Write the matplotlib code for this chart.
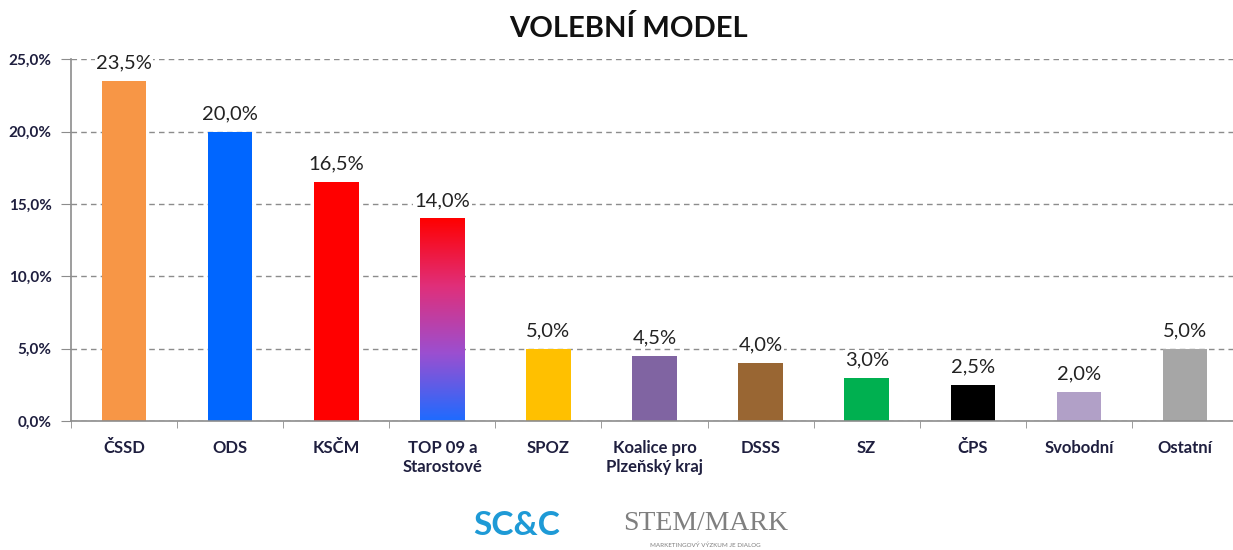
import matplotlib.pyplot as plt
import numpy as np
from matplotlib.colors import LinearSegmentedColormap

plt.rcParams['font.family'] = ['Lato', 'DejaVu Sans']

parties = ['ČSSD', 'ODS', 'KSČM', 'TOP 09 a\nStarostové', 'SPOZ',
           'Koalice pro\nPlzeňský kraj', 'DSSS', 'SZ', 'ČPS', 'Svobodní', 'Ostatní']
values = [23.5, 20.0, 16.5, 14.0, 5.0, 4.5, 4.0, 3.0, 2.5, 2.0, 5.0]
colors = ['#F79646', '#0066FF', '#FF0000', 'none', '#FFC000', '#8064A2',
          '#996633', '#00B050', '#000000', '#B1A0C7', '#A6A6A6']

fig = plt.figure(figsize=(12.33, 5.5), dpi=100)
ax = fig.add_axes([0.0576, 0.2345, 0.9465, 0.658])

x = np.arange(len(parties))
bw = 0.42
bars = ax.bar(x, values, width=bw, color=colors, zorder=3)

# gradient bar for TOP 09
i = 3
cmap = LinearSegmentedColormap.from_list('tb', ['#1E6BFF', '#9B4FD0', '#E02F7A', '#FF0000'])
grad = np.linspace(0, 1, 256).reshape(-1, 1)
im = ax.imshow(grad, cmap=cmap, origin='lower', aspect='auto',
               extent=[x[i] - bw / 2, x[i] + bw / 2, 0, values[i]], zorder=3)
im.set_clip_path(bars[i])

for xi, v in zip(x, values):
    ax.text(xi, v + 0.65, f'{v:.1f}%'.replace('.', ','), ha='center', va='bottom',
            fontsize=14.5, color='#222222', zorder=4,
            bbox=dict(facecolor='white', edgecolor='none', pad=1))

ax.set_xlim(-0.5, len(parties) - 0.5)
ax.set_ylim(0, 25)
ax.set_yticks(np.arange(0, 26, 5))
ax.set_yticklabels([f'{t:.1f}%'.replace('.', ',') for t in np.arange(0, 26, 5)],
                   fontsize=11, fontweight='bold', color='#1F1F3F')
ax.yaxis.grid(True, linestyle=(0, (4, 3)), color='#8C8C8C', linewidth=1, zorder=0)
ax.set_xticks(x)
ax.set_xticklabels(parties, fontsize=12, fontweight='bold', color='#1F1F3F')
ax.set_xticks(np.arange(-0.5, len(parties), 1), minor=True)
ax.tick_params(axis='x', which='major', length=0, pad=14)
ax.tick_params(axis='x', which='minor', length=5, color='#8C8C8C')
ax.tick_params(axis='y', length=7, color='#8C8C8C', pad=7)

for s in ['top', 'right']:
    ax.spines[s].set_visible(False)
for s in ['left', 'bottom']:
    ax.spines[s].set_color('#8C8C8C')
    ax.spines[s].set_linewidth(1.2)
ax.spines['bottom'].set_zorder(5)

fig.text(0.51, 0.948, 'VOLEBNÍ MODEL', ha='center', va='center',
         fontsize=21, fontweight='bold', color='#111111')

# logos as text
fig.text(0.419, 0.045, 'SC&C', ha='center', va='center', fontsize=24,
         fontweight='bold', color='#1E9AD6')
fig.text(0.572, 0.048, 'STEM/MARK', ha='center', va='center', fontsize=20,
         color='#7F7F7F', family='Liberation Serif')
fig.text(0.572, 0.008, 'MARKETINGOVÝ VÝZKUM JE DIALOG', ha='center', va='center',
         fontsize=4.5, color='#7F7F7F')

fig.savefig('out.png', dpi=100)
